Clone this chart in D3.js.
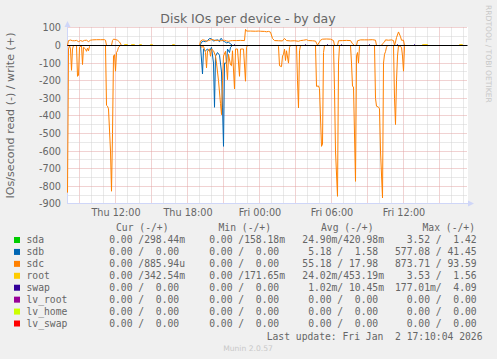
<!DOCTYPE html>
<html>
<head>
<meta charset="utf-8">
<script src="https://cdn.jsdelivr.net/npm/d3@7"></script>
<style>
html, body { margin: 0; padding: 0; background: #f0f0f0; }
svg { display: block; }
text { font-family: "DejaVu Sans", sans-serif; fill: #666666; }
.mono { font-family: "DejaVu Sans Mono", monospace; white-space: pre; }
</style>
</head>
<body>
<script>
const width = 497,
      height = 359;

// samples: [time, IOs/s]; reads are plotted below zero
const sdaRead  = [["Thu 08:00", 0], ["Fri 17:10", 0]];
const sdaWrite = [["Thu 08:00", 0], ["Fri 17:10", 0]];

const sdbRead = [
  ["Thu 08:00", 0], ["Thu 19:05", 0], ["Thu 19:15", -162], ["Thu 19:20", -20], ["Thu 19:30", -30],
  ["Thu 19:40", -20], ["Thu 19:50", -33], ["Thu 20:00", -10], ["Thu 20:10", -100], ["Thu 20:15", -351],
  ["Thu 20:20", -60], ["Thu 20:30", -40], ["Thu 20:40", -55], ["Thu 20:50", -150], ["Thu 20:55", -350],
  ["Thu 21:00", -573], ["Thu 21:05", -100], ["Thu 21:15", -100], ["Thu 21:20", -20], ["Thu 21:30", -40],
  ["Thu 21:35", -10], ["Thu 21:45", 0], ["Fri 17:10", 0]
];
const sdbWrite = [
  ["Thu 08:00", 0], ["Thu 19:00", 0], ["Thu 19:05", 5], ["Thu 19:10", 20], ["Thu 19:20", 24],
  ["Thu 19:30", 22], ["Thu 19:40", 28], ["Thu 19:50", 40], ["Thu 20:00", 38], ["Thu 20:10", 25],
  ["Thu 20:20", 30], ["Thu 20:30", 32], ["Thu 20:40", 22], ["Thu 20:45", 38], ["Thu 20:50", 40],
  ["Thu 20:55", 28], ["Thu 21:05", 22], ["Thu 21:15", 15], ["Thu 21:25", 18], ["Thu 21:35", 10],
  ["Thu 21:45", 0], ["Fri 17:10", 0]
];

const sdcRead = [
  ["Thu 08:00", -836], ["Thu 08:05", -20], ["Thu 08:10", 0], ["Thu 08:15", -20], ["Thu 08:20", -141],
  ["Thu 08:25", -20], ["Thu 08:30", 0], ["Thu 08:45", 0], ["Thu 08:50", -175], ["Thu 08:55", -170],
  ["Thu 09:00", -10], ["Thu 09:10", 0], ["Thu 09:15", -108], ["Thu 09:20", -10], ["Thu 09:30", -20],
  ["Thu 09:35", -33], ["Thu 09:40", -15], ["Thu 09:45", -30], ["Thu 09:50", -5], ["Thu 09:55", 0],
  ["Thu 11:10", 0], ["Thu 11:15", -340], ["Thu 11:20", -345], ["Thu 11:25", -360], ["Thu 11:35", -600],
  ["Thu 11:40", -828], ["Thu 11:45", -500], ["Thu 11:50", -60], ["Thu 11:55", -52], ["Thu 12:00", -146],
  ["Thu 12:05", -40], ["Thu 12:10", -30], ["Thu 12:15", -10], ["Thu 12:25", 0],
  ["Thu 19:05", 0], ["Thu 19:10", -10], ["Thu 19:20", -5], ["Thu 19:30", -40], ["Thu 19:35", -127],
  ["Thu 19:40", -30], ["Thu 19:50", -20], ["Thu 19:55", -61], ["Thu 20:00", -20], ["Thu 20:10", -30],
  ["Thu 20:20", -60], ["Thu 20:25", -100], ["Thu 20:35", -200], ["Thu 20:45", -330], ["Thu 20:50", -393],
  ["Thu 20:55", -200], ["Thu 21:00", -60], ["Thu 21:10", -33], ["Thu 21:20", -194], ["Thu 21:25", -50],
  ["Thu 21:35", -110], ["Thu 21:40", -115], ["Thu 21:45", -30], ["Thu 21:55", -247], ["Thu 22:00", -20],
  ["Thu 22:10", -20], ["Thu 22:20", -175], ["Thu 22:25", -20], ["Thu 22:40", -20], ["Thu 22:50", -203],
  ["Thu 22:55", -10], ["Thu 23:00", 0],
  ["Fri 01:30", 0], ["Fri 01:35", -5], ["Fri 01:40", -115], ["Fri 01:50", -120], ["Fri 01:55", -60],
  ["Fri 02:00", -50], ["Fri 02:05", -20], ["Fri 02:10", -85], ["Fri 02:15", -30], ["Fri 02:25", -100],
  ["Fri 02:30", -10], ["Fri 02:35", 0], ["Fri 03:05", 0], ["Fri 03:10", -200], ["Fri 03:15", -355],
  ["Fri 03:20", -30], ["Fri 03:25", 0], ["Fri 04:40", 0], ["Fri 04:45", -232], ["Fri 04:55", -230],
  ["Fri 05:00", -245], ["Fri 05:10", -573], ["Fri 05:15", -560], ["Fri 05:20", -40], ["Fri 05:25", 0],
  ["Fri 06:10", 0], ["Fri 06:15", -250], ["Fri 06:20", -600], ["Fri 06:30", -857], ["Fri 06:35", -100],
  ["Fri 06:40", 0], ["Fri 07:35", 0], ["Fri 07:40", -100], ["Fri 07:45", -232], ["Fri 07:50", -235],
  ["Fri 08:00", -772], ["Fri 08:05", -60], ["Fri 08:10", -40], ["Fri 08:15", -100], ["Fri 08:20", -5],
  ["Fri 08:25", 0], ["Fri 09:35", 0], ["Fri 09:40", -300], ["Fri 09:45", -345], ["Fri 09:55", -350],
  ["Fri 10:00", -360], ["Fri 10:05", -600], ["Fri 10:15", -866], ["Fri 10:20", -100], ["Fri 10:25", -50],
  ["Fri 10:30", -35], ["Fri 10:35", -10], ["Fri 10:40", 0], ["Fri 11:10", 0], ["Fri 11:15", -300],
  ["Fri 11:20", -449], ["Fri 11:25", -200], ["Fri 11:30", -60], ["Fri 11:35", 0], ["Fri 11:50", -10],
  ["Fri 11:55", -60], ["Fri 12:00", -146], ["Fri 12:05", -5], ["Fri 12:10", 0], ["Fri 17:10", 0]
];
const sdcWrite = [
  ["Thu 08:00", 0], ["Thu 08:05", 28], ["Thu 08:15", 31], ["Thu 08:25", 27], ["Thu 08:35", 27],
  ["Thu 08:45", 29], ["Thu 08:55", 22], ["Thu 09:05", 28], ["Thu 09:15", 24], ["Thu 09:25", 29],
  ["Thu 09:35", 30], ["Thu 09:45", 22], ["Thu 09:55", 30], ["Thu 10:05", 32], ["Thu 10:25", 33],
  ["Thu 10:45", 33], ["Thu 11:05", 33], ["Thu 11:10", 30], ["Thu 11:15", 0], ["Thu 11:40", 0],
  ["Thu 11:45", 28], ["Thu 11:50", 36], ["Thu 12:00", 34], ["Thu 12:10", 30], ["Thu 12:20", 20],
  ["Thu 12:30", 0], ["Thu 19:00", 0], ["Thu 19:05", 25], ["Thu 19:15", 32], ["Thu 19:25", 30],
  ["Thu 19:35", 24], ["Thu 19:45", 28], ["Thu 19:55", 32], ["Thu 20:05", 34], ["Thu 20:15", 30],
  ["Thu 20:25", 28], ["Thu 20:35", 30], ["Thu 20:45", 27], ["Thu 20:55", 28], ["Thu 21:05", 30],
  ["Thu 21:15", 26], ["Thu 21:25", 24], ["Thu 21:35", 27], ["Thu 21:45", 28], ["Thu 22:05", 28],
  ["Thu 22:25", 29], ["Thu 22:45", 28], ["Thu 22:50", 92], ["Thu 22:55", 82], ["Thu 23:15", 82],
  ["Thu 23:40", 81], ["Thu 23:55", 82], ["Fri 00:05", 81], ["Fri 00:25", 80], ["Fri 00:35", 78],
  ["Fri 00:45", 80], ["Fri 00:55", 76], ["Fri 01:05", 40], ["Fri 01:15", 28], ["Fri 01:35", 27],
  ["Fri 01:55", 26], ["Fri 02:05", 40], ["Fri 02:15", 28], ["Fri 02:35", 26], ["Fri 02:55", 27],
  ["Fri 03:15", 24], ["Fri 03:25", 28], ["Fri 03:40", 30], ["Fri 03:55", 33], ["Fri 04:05", 28],
  ["Fri 04:25", 27], ["Fri 04:40", 25], ["Fri 04:50", 2], ["Fri 05:05", 30], ["Fri 05:15", 36],
  ["Fri 05:35", 37], ["Fri 05:55", 36], ["Fri 06:10", 28], ["Fri 06:15", 0], ["Fri 06:30", 0],
  ["Fri 06:35", 27], ["Fri 06:55", 28], ["Fri 07:15", 29], ["Fri 07:35", 28], ["Fri 07:45", 10],
  ["Fri 07:55", 0], ["Fri 08:05", 0], ["Fri 08:10", 27], ["Fri 08:25", 32], ["Fri 08:45", 32],
  ["Fri 09:05", 32], ["Fri 09:25", 33], ["Fri 09:40", 30], ["Fri 09:45", 0], ["Fri 10:10", 0],
  ["Fri 10:15", 10], ["Fri 10:25", 20], ["Fri 10:30", 32], ["Fri 10:45", 30], ["Fri 11:00", 32],
  ["Fri 11:10", 28], ["Fri 11:15", 0], ["Fri 11:20", 20], ["Fri 11:25", 45], ["Fri 11:35", 77],
  ["Fri 11:45", 50], ["Fri 11:50", 30], ["Fri 12:00", 30], ["Fri 12:05", 0], ["Fri 17:10", 0]
];

const rootRead  = [["Thu 08:00", 0], ["Fri 17:10", 0]];
const rootWrite = [
  ["Thu 08:00", 0], ["Thu 12:40", 0], ["Thu 12:45", 5], ["Thu 13:00", 5], ["Thu 13:05", 0],
  ["Thu 13:15", 0], ["Thu 13:20", 5], ["Thu 13:35", 5], ["Thu 13:40", 0], ["Thu 13:55", 0],
  ["Thu 14:00", 5], ["Thu 14:10", 5], ["Thu 14:15", 0], ["Thu 14:50", 0], ["Thu 14:55", 5],
  ["Thu 15:05", 5], ["Thu 15:10", 0], ["Thu 16:40", 0], ["Thu 16:45", 5], ["Thu 16:55", 5],
  ["Thu 17:00", 0], ["Fri 13:30", 0], ["Fri 13:35", 5], ["Fri 14:00", 5], ["Fri 14:05", 0],
  ["Fri 16:35", 0], ["Fri 16:40", 5], ["Fri 16:55", 5], ["Fri 17:00", 0], ["Fri 17:10", 0]
];

const swapRead  = [["Thu 08:00", 0], ["Fri 17:10", 0]];
const swapWrite = [
  ["Thu 08:00", 0], ["Thu 21:50", 0], ["Thu 21:55", 5], ["Thu 22:00", 0], ["Fri 03:45", 0],
  ["Fri 03:50", 5], ["Fri 03:55", 0], ["Fri 05:35", 0], ["Fri 05:40", 5], ["Fri 05:45", 0],
  ["Fri 06:45", 0], ["Fri 06:50", 5], ["Fri 06:55", 0], ["Fri 09:05", 0], ["Fri 09:10", 5],
  ["Fri 09:15", 0], ["Fri 11:25", 0], ["Fri 11:30", 5], ["Fri 11:35", 0], ["Fri 12:50", 0],
  ["Fri 12:55", 5], ["Fri 13:00", 0], ["Fri 17:10", 0]
];

const lvFlat = [["Thu 08:00", 0], ["Fri 17:10", 0]];

// legend
const devices = ["sda", "sdb", "sdc", "root", "swap", "lv_root", "lv_home", "lv_swap"];
const colors  = ["#00cc00", "#0066b3", "#ff8000", "#ffcc00", "#330099", "#990099", "#ccff00", "#ff0000"];
const curText = ["0.00 /298.44m", "0.00 /  0.00 ", "0.00 /885.94u", "0.00 /342.54m",
                 "0.00 /  0.00 ", "0.00 /  0.00 ", "0.00 /  0.00 ", "0.00 /  0.00 "];
const minText = ["0.00 /158.18m", "0.00 /  0.00 ", "0.00 /  0.00 ", "0.00 /171.65m",
                 "0.00 /  0.00 ", "0.00 /  0.00 ", "0.00 /  0.00 ", "0.00 /  0.00 "];
const avgText = ["24.90m/420.98m", "5.18 /  1.58 ", "55.18 / 17.98 ", "24.02m/453.19m",
                 "1.02m/ 10.45m", "0.00 /  0.00 ", "0.00 /  0.00 ", "0.00 /  0.00 "];
const maxText = ["3.52 /  1.42 ", "577.08 / 41.45 ", "873.71 / 93.59 ", "3.53 /  1.56 ",
                 "177.01m/  4.09 ", "0.00 /  0.00 ", "0.00 /  0.00 ", "0.00 /  0.00 "];
const headers = ["Cur (-/+)", "Min (-/+)", "Avg (-/+)", "Max (-/+)"];

const yTicks = [100, 0, -100, -200, -300, -400, -500, -600, -700, -800, -900];

const series = [
  [sdaRead, sdaWrite], [sdbRead, sdbWrite], [sdcRead, sdcWrite], [rootRead, rootWrite],
  [swapRead, swapWrite], [lvFlat, lvFlat], [lvFlat, lvFlat], [lvFlat, lvFlat]
];

function when(s) {
  const [day, hm] = s.split(" "),
        [h, m] = hm.split(":");
  return new Date(2026, 0, day == "Thu" ? 1 : 2, +h, +m);
}

const x = d3.scaleTime()
            .domain([new Date(2026, 0, 1, 8, 0), new Date(2026, 0, 2, 17, 20)])
            .range([67.5, 467.5]);
const y = d3.scaleLinear()
            .domain([-900, 100])
            .range([203.9, 27.9]);
const py = v => Math.floor(y(v)) + 0.5;

const svg = d3.select("body")
              .append("svg")
              .attr("width", width)
              .attr("height", height);

svg.append("rect")
   .attr("width", width).attr("height", height)
   .attr("fill", "#f0f0f0");

svg.append("rect")
   .attr("x", 67).attr("y", 27)
   .attr("width", 401).attr("height", 177)
   .attr("fill", "#ffffff");

// grid
const grid = svg.append("g").attr("stroke-width", 1).attr("stroke-dasharray", "1,1");

const hours = x.ticks(d3.timeHour.every(1)).filter(d => x(d) > 68);
grid.selectAll("line.v")
    .data(hours)
    .enter()
    .append("line")
    .attr("x1", d => x(d)).attr("x2", d => x(d))
    .attr("y1", 27.5).attr("y2", 203.5)
    .attr("stroke", d => d.getHours() % 3 == 0 ? "#e3a5a5" : "#d2d2d2");

grid.selectAll("line.h")
    .data(d3.range(-850, 101, 50))
    .enter()
    .append("line")
    .attr("x1", 67.5).attr("x2", 467.5)
    .attr("y1", d => py(d)).attr("y2", d => py(d))
    .attr("stroke", d => d % 100 == 0 ? "#e3a5a5" : "#d2d2d2");

// axes
svg.append("line")
   .attr("x1", 67.5).attr("x2", 67.5).attr("y1", 204).attr("y2", 24)
   .attr("stroke", "#cfd6f8");
svg.append("line")
   .attr("x1", 67).attr("x2", 470).attr("y1", 203.5).attr("y2", 203.5)
   .attr("stroke", "#cfd6f8");
svg.append("path")
   .attr("d", "M64.5,27L67.5,21L70.5,27Z")
   .attr("fill", "#cfd6f8");
svg.append("path")
   .attr("d", "M468,200.5L474,203.5L468,206.5Z")
   .attr("fill", "#cfd6f8");

// data lines
const line = d3.line()
               .x(d => x(when(d[0])))
               .y(d => y(d[1]));

series.forEach(function(s, i) {
    s.forEach(function(data) {
        svg.append("path")
           .datum(data)
           .attr("fill", "none")
           .attr("stroke", colors[i])
           .attr("stroke-width", 1)
           .attr("stroke-linejoin", "round")
           .attr("d", line);
    });
});

svg.append("line")
   .attr("x1", 67.5).attr("x2", 467.5)
   .attr("y1", py(0)).attr("y2", py(0))
   .attr("stroke", "#000000");

// tick labels
const yAxis = svg.append("g")
                 .attr("transform", "translate(67,0)")
                 .call(d3.axisLeft(y).tickValues(yTicks).tickSize(0).tickPadding(6).tickFormat(String));
yAxis.select(".domain").remove();
yAxis.selectAll("text")
     .attr("y", d => py(d) - y(d))
     .style("font-size", "9.7px")
     .style("font-family", "DejaVu Sans");

const xAxis = svg.append("g")
                 .attr("transform", "translate(0,204)")
                 .call(d3.axisBottom(x).ticks(d3.timeHour.every(6)).tickSize(0).tickPadding(5.5)
                         .tickFormat(d3.timeFormat("%a %H:%M")));
xAxis.select(".domain").remove();
xAxis.selectAll("text")
     .style("font-size", "9.7px")
     .style("font-family", "DejaVu Sans");

// titles
svg.append("text")
   .attr("x", 248).attr("y", 22.5)
   .attr("text-anchor", "middle")
   .style("font-size", "12.5px")
   .text("Disk IOs per device - by day");

svg.append("text")
   .attr("transform", "translate(14,115.5)rotate(-90)")
   .attr("text-anchor", "middle")
   .style("font-size", "11.1px")
   .text("IOs/second read (-) / write (+)");

svg.append("text")
   .attr("transform", "translate(485.5,5)rotate(90)")
   .style("font-size", "7.6px")
   .style("fill", "#c8c8c8")
   .text("RRDTOOL / TOBI OETIKER");

// legend
const colEnds = [185, 285, 384, 482.5],
      colStarts = [116, 218.5, 321, 422.5];

svg.selectAll("text.head")
   .data(headers)
   .enter()
   .append("text")
   .attr("class", "mono")
   .attr("x", (d, i) => colStarts[i]).attr("y", 231)
   .style("font-size", "9.7px")
   .text(d => d);

const rows = svg.selectAll("g.row")
                .data(devices)
                .enter()
                .append("g")
                .attr("transform", (d, i) => "translate(0," + (243 + i * 11.93) + ")");

rows.append("rect")
    .attr("x", 14).attr("y", -6)
    .attr("width", 6).attr("height", 6)
    .attr("fill", (d, i) => colors[i]);

rows.append("text")
    .attr("class", "mono")
    .attr("x", 26.5)
    .style("font-size", "9.7px")
    .text(d => d);

[curText, minText, avgText, maxText].forEach(function(col, c) {
    rows.append("text")
        .attr("class", "mono")
        .attr("x", colEnds[c])
        .attr("text-anchor", "end")
        .style("font-size", "9.7px")
        .text((d, i) => col[i]);
});

svg.append("text")
   .attr("class", "mono")
   .attr("x", 482.5).attr("y", 340)
   .attr("text-anchor", "end")
   .style("font-size", "9.7px")
   .text("Last update: Fri Jan  2 17:10:04 2026");

svg.append("text")
   .attr("x", 248).attr("y", 350.5)
   .attr("text-anchor", "middle")
   .style("font-size", "7.6px")
   .style("fill", "#c8c8c8")
   .text("Munin 2.0.57");
</script>
</body>
</html>
